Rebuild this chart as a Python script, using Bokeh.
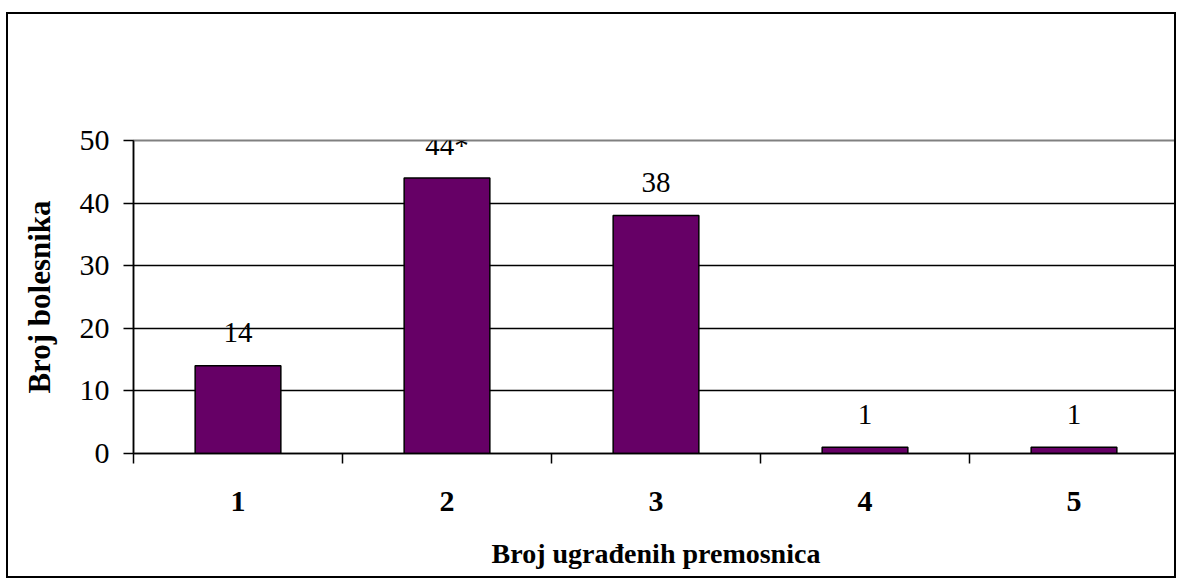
from bokeh.plotting import figure
from bokeh.models import FixedTicker, ColumnDataSource
from bokeh.core.properties import value
from bokeh.embed import file_html
from bokeh.resources import INLINE

categories = ["1", "2", "3", "4", "5"]
counts = [14, 44, 38, 1, 1]
bar_labels = ["14", "44*", "38", "1", "1"]
y_ticks = [0, 10, 20, 30, 40, 50]
x_title = "Broj ugrađenih premosnica"
y_title = "Broj bolesnika"

xs = [i + 1 for i in range(len(categories))]
src = ColumnDataSource(dict(x=xs, top=counts, lab=bar_labels))

FONT = "Liberation Serif"

p = figure(width=1170, height=566, x_range=(0.5, len(categories) + 0.5), y_range=(0, 50),
           output_backend="svg", toolbar_location=None,
           min_border_left=125, min_border_right=0, min_border_top=126, min_border_bottom=127)
p.styles = {"border": "2px solid black", "margin-left": "6px", "margin-top": "12px"}
p.background_fill_color = "white"
p.border_fill_color = "white"
p.outline_line_color = "#808080"
p.outline_line_width = 2

p.vbar(x="x", top="top", width=0.41, bottom=0, source=src,
       fill_color="#660066", line_color="black", line_width=1.5)

p.text(x="x", y="top", text="lab", source=src, y_offset=-33,
       text_align="center", text_baseline="alphabetic",
       text_font=value(FONT), text_font_size="29px", text_color="black")

# grid
p.xgrid.visible = False
p.ygrid.ticker = FixedTicker(ticks=[10, 20, 30, 40])
p.ygrid.grid_line_color = "black"
p.ygrid.grid_line_width = 1.5

# x axis
xa = p.xaxis[0]
xa.ticker = FixedTicker(ticks=xs, minor_ticks=[x - 0.5 for x in xs] + [xs[-1] + 0.5])
xa.major_label_overrides = {x: c for x, c in zip(xs, categories)}
xa.major_tick_out = 0
xa.major_tick_in = 0
xa.minor_tick_out = 10
xa.minor_tick_in = 0
xa.minor_tick_line_color = "black"
xa.minor_tick_line_width = 1.5
xa.axis_line_color = "black"
xa.axis_line_width = 1.5
xa.major_label_text_font = FONT
xa.major_label_text_font_style = "bold"
xa.major_label_text_font_size = "30px"
xa.major_label_text_color = "black"
xa.major_label_standoff = 28
xa.axis_label = x_title
xa.axis_label_text_font = FONT
xa.axis_label_text_font_style = "bold"
xa.axis_label_text_font_size = "28px"
xa.axis_label_text_color = "black"
xa.axis_label_standoff = 24

# y axis
ya = p.yaxis[0]
ya.ticker = FixedTicker(ticks=y_ticks)
ya.major_tick_out = 10
ya.major_tick_in = 0
ya.minor_tick_out = 0
ya.minor_tick_in = 0
ya.major_tick_line_color = "black"
ya.major_tick_line_width = 1.5
ya.axis_line_color = "black"
ya.axis_line_width = 1.5
ya.major_label_text_font = FONT
ya.major_label_text_font_size = "30px"
ya.major_label_text_color = "black"
ya.major_label_standoff = 14
ya.axis_label = y_title
ya.axis_label_text_font = FONT
ya.axis_label_text_font_style = "bold"
ya.axis_label_text_font_size = "31px"
ya.axis_label_text_color = "black"
ya.axis_label_standoff = 20

open("out.html", "w").write(file_html(p, INLINE))
